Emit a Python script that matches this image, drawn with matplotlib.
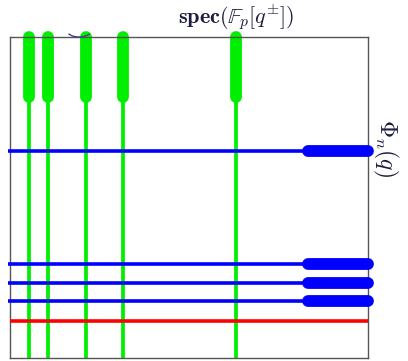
import matplotlib.pyplot as plt
from matplotlib.patches import Arc

plt.rcParams['mathtext.fontset'] = 'cm'

# vertical (green) lines: x positions, thick part starts at this height
green_x = [0.53, 1.06, 2.12, 3.16, 6.31]
green_thick_from = 7.32
# horizontal lines
blue_y = [5.80, 2.64, 2.10, 1.60]
blue_thick_from = 8.32
red_y = [1.04]

XMAX, YMAX = 10.0, 9.0
GREEN = '#00ee00'
BLUE = '#0000ff'
RED = '#ff0000'
TEXT = '#1c1c3c'

fig = plt.figure(figsize=(4.08, 3.61), dpi=100)
ax = fig.add_axes([10 / 408, 3 / 361, 358 / 408, 321 / 361])
ax.set_xlim(0, XMAX)
ax.set_ylim(0, YMAX)
ax.set_xticks([])
ax.set_yticks([])
for s in ax.spines.values():
    s.set_color('#555555')
    s.set_linewidth(1.0)

for x in green_x:
    ax.plot([x, x], [0, green_thick_from], color=GREEN, lw=2.7,
            solid_capstyle='butt', zorder=2)
    ax.plot([x, x], [green_thick_from, YMAX], color=GREEN, lw=8.5,
            solid_capstyle='round', clip_on=False, zorder=2)

for y in blue_y:
    ax.plot([-0.05, blue_thick_from], [y, y], color=BLUE, lw=2.6,
            solid_capstyle='butt', clip_on=False, zorder=3)
    ax.plot([blue_thick_from, XMAX], [y, y], color=BLUE, lw=8.5,
            solid_capstyle='round', clip_on=False, zorder=3)

for y in red_y:
    ax.plot([0, XMAX], [y, y], color=RED, lw=2.6,
            solid_capstyle='butt', zorder=3)

# small arc peeking above the frame
ax.add_patch(Arc((1.93, 9.2), 0.7, 0.4, theta1=200, theta2=340,
                 color='#4a3a8a', lw=1.0, clip_on=False, zorder=4))

fig.text(236 / 408, 1 - 17 / 361, r'$\mathbf{spec}(\mathbb{F}_p[q^{\pm}])$',
         ha='center', va='center', fontsize=16, color=TEXT)
fig.text(386 / 408, 1 - 148 / 361, r'$\Phi_n(q)$', rotation=270,
         ha='center', va='center', fontsize=17, color=TEXT)

fig.savefig('out.png', dpi=100)
